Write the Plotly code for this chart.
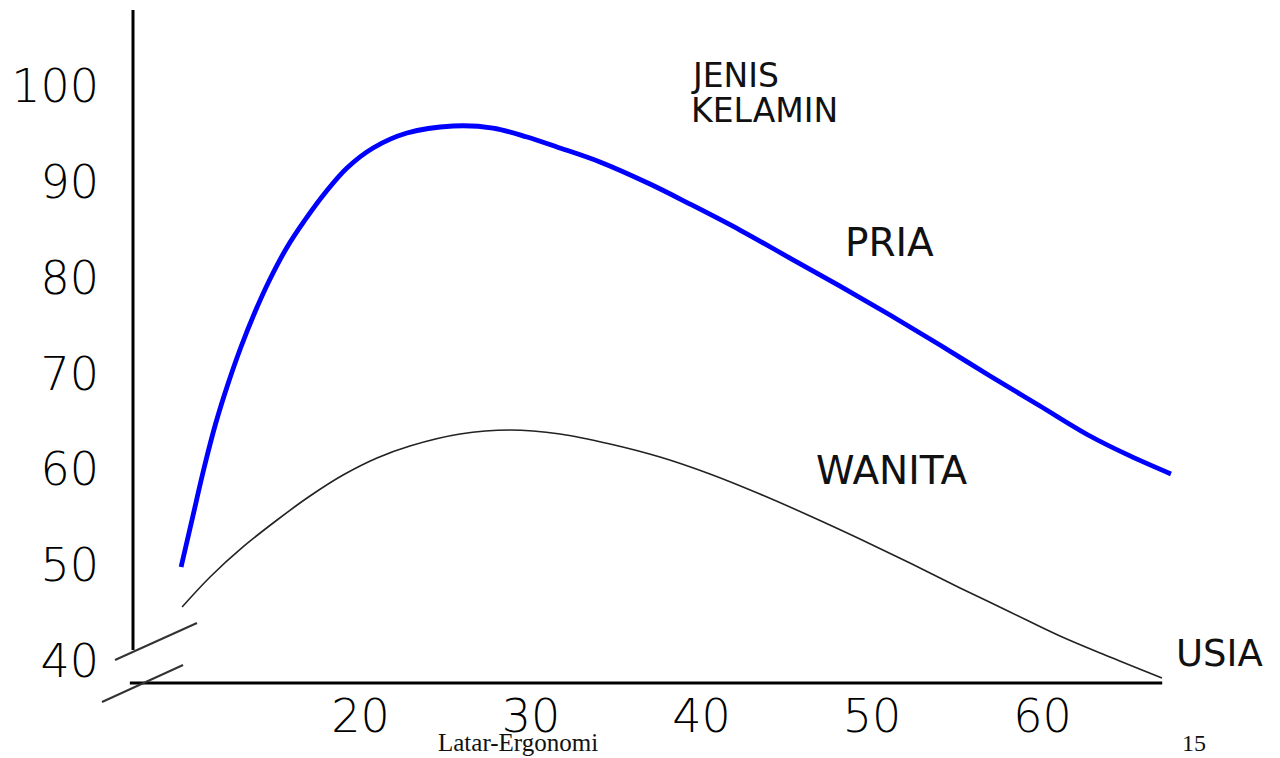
import plotly.graph_objects as go

# ---- data ----
pria_age = [9.47, 10.15, 10.79, 11.49, 12.20, 12.96, 13.78, 14.66, 15.66, 16.74,
            17.91, 19.20, 20.73, 22.72, 25.42, 27.76, 29.76, 31.52, 34.04, 36.97,
            39.32, 42.25, 45.18, 48.12, 51.05, 53.98, 56.92, 59.85, 62.78, 65.13, 67.53]
pria_val = [49.81, 55.02, 59.93, 64.72, 68.79, 72.65, 76.30, 79.74, 83.08, 86.00,
            88.81, 91.42, 93.51, 95.07, 95.80, 95.59, 94.65, 93.61, 92.05, 89.75,
            87.66, 84.95, 82.03, 79.11, 76.09, 72.96, 69.73, 66.60, 63.47, 61.39, 59.51]

wanita_age = [9.53, 11.17, 13.10, 15.10, 17.03, 18.97, 20.96, 22.89, 25.83, 28.76,
              31.70, 34.63, 37.56, 40.49, 43.42, 46.36, 49.29, 52.22, 55.16, 58.09,
              61.02, 63.95, 67.00]
wanita_val = [45.64, 48.77, 51.90, 54.71, 57.21, 59.40, 61.18, 62.43, 63.68, 64.10,
              63.68, 62.64, 61.28, 59.51, 57.42, 55.13, 52.73, 50.23, 47.62, 45.12,
              42.61, 40.42, 38.23]

x_ticks = [20, 30, 40, 50, 60]
y_ticks = [40, 50, 60, 70, 80, 90, 100]

SANS = "DejaVu Sans"

fig = go.Figure()
fig.add_trace(go.Scatter(x=pria_age, y=pria_val, mode="lines", name="PRIA",
                         line=dict(color="#0000ff", width=4.8, shape="spline", smoothing=1.0),
                         showlegend=False, hoverinfo="skip"))
fig.add_trace(go.Scatter(x=wanita_age, y=wanita_val, mode="lines", name="WANITA",
                         line=dict(color="#222222", width=1.6, shape="spline", smoothing=1.0),
                         showlegend=False, hoverinfo="skip"))

# the page adds an 8px body margin, so the figure is 16px smaller and the margins are shifted
fig.update_layout(
    width=1264, height=750,
    margin=dict(l=125, r=92, t=2, b=75, autoexpand=False),
    paper_bgcolor="white", plot_bgcolor="white",
    xaxis=dict(range=[6.65, 68.06], tickvals=x_ticks, ticktext=[str(v) for v in x_ticks],
               showgrid=False, zeroline=False, showline=False, ticks="",
               automargin=False, ticklabelstandoff=2,
               tickfont=dict(family=SANS, size=46, color="#000", weight=300)),
    yaxis=dict(range=[37.71, 107.90], tickvals=y_ticks, ticktext=[str(v) for v in y_ticks],
               showgrid=False, zeroline=False, showline=False, ticks="",
               automargin=False, ticklabelstandoff=33,
               tickfont=dict(family=SANS, size=46, color="#000", weight=300)),
)

# axes lines (broken axes as in the original sketch)
fig.add_shape(type="line", xref="paper", yref="paper", x0=0, x1=0, y0=0.049, y1=1,
              line=dict(color="black", width=3))
fig.add_shape(type="line", xref="paper", yref="paper", x0=-0.003, x1=0.983, y0=0, y1=0,
              line=dict(color="black", width=3))
# break marks
fig.add_shape(type="line", xref="paper", yref="paper", x0=-0.0172, y0=0.0342, x1=0.0611, y1=0.0892,
              line=dict(color="#333", width=2))
fig.add_shape(type="line", xref="paper", yref="paper", x0=-0.0296, y0=-0.0282, x1=0.0478, y1=0.0267,
              line=dict(color="#333", width=2))


def px_to_age(px):
    return 40 + (px - 701.6) / 17.05


def py_to_val(py):
    return 70 - (py - 373.4) / 9.589


def label(text, px, py, size):
    fig.add_annotation(text=text, x=px_to_age(px), y=py_to_val(py), xref="x", yref="y",
                       showarrow=False, xanchor="left", yanchor="middle",
                       font=dict(family=SANS, size=size, color="#111"))


label("JENIS", 689, 75, 33)
label("KELAMIN", 689, 110, 33)
label("PRIA", 843, 242, 39)
label("WANITA", 814, 471, 39)
label("USIA", 1174, 654, 37)

fig.add_annotation(text="Latar-Ergonomi", xref="paper", yref="paper", x=(518 - 133) / 1047,
                   y=(683 - 758) / 673, showarrow=False, xanchor="center", yanchor="bottom",
                   font=dict(family="Liberation Serif", size=25, color="#111"))
fig.add_annotation(text="15", xref="paper", yref="paper", x=(1194 - 133) / 1047,
                   y=(683 - 758) / 673, showarrow=False, xanchor="center", yanchor="bottom",
                   font=dict(family="Liberation Serif", size=24, color="#111"))

fig.write_html("out.html")
